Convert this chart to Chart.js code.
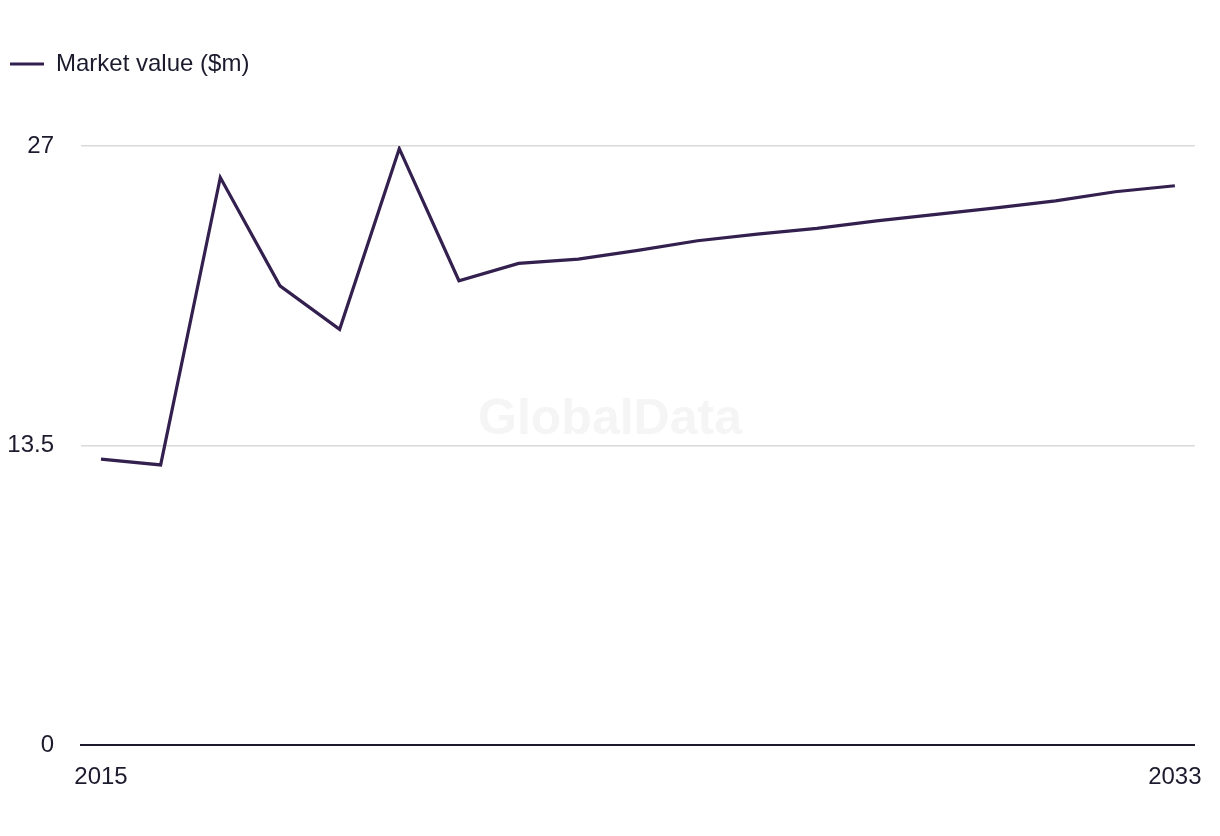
<!DOCTYPE html>
<html>
<head>
<meta charset="utf-8">
<script src="https://cdn.jsdelivr.net/npm/chart.js@4/dist/chart.umd.min.js"></script>
<style>
  html, body { margin: 0; padding: 0; background: #fff; }
  #wrap { width: 1220px; height: 836px; }
</style>
</head>
<body>
<div id="wrap"><canvas id="market"></canvas></div>
<script>
const years = [2015, 2016, 2017, 2018, 2019, 2020, 2021, 2022, 2023, 2024,
               2025, 2026, 2027, 2028, 2029, 2030, 2031, 2032, 2033];
const marketValue = [12.89, 12.63, 25.58, 20.7, 18.74, 26.88, 20.93, 21.71, 21.9, 22.3,
                     22.73, 23.03, 23.29, 23.63, 23.92, 24.21, 24.53, 24.94, 25.21];
const xTickYears = [2015, 2033];
const yTicks = [0, 13.5, 27];
const seriesLabel = 'Market value ($m)';

const textColor = '#1c1b2e';
const lineColor = '#33204f';

// watermark in the middle of the canvas
const watermark = {
      id: 'watermark',
      beforeDraw(chart) {
            const ctx = chart.ctx;
            ctx.save();
            ctx.font = 'bold 50px "Liberation Sans", Arial, sans-serif';
            ctx.fillStyle = '#f5f5f5';
            ctx.textAlign = 'center';
            ctx.textBaseline = 'middle';
            ctx.fillText('GlobalData', chart.width / 2, 420);
            ctx.restore();
      }
};

// extra room under the legend
const legendGap = {
      id: 'legendGap',
      beforeInit(chart) {
            const fit = chart.legend.fit;
            chart.legend.fit = function () {
                  fit.bind(chart.legend)();
                  this.height += 60;
            };
      }
};

Chart.defaults.font.family = '"Liberation Sans", Arial, sans-serif';
Chart.defaults.font.size = 24;
Chart.defaults.color = textColor;

new Chart(document.getElementById('market'), {
      type: 'line',
      data: {
            datasets: [{
                  label: seriesLabel,
                  data: years.map((yr, i) => ({ x: yr, y: marketValue[i] })),
                  borderColor: lineColor,
                  backgroundColor: lineColor,
                  borderWidth: 3.2,
                  borderJoinStyle: 'miter',
                  pointRadius: 0,
                  tension: 0
            }]
      },
      options: {
            responsive: true,
            maintainAspectRatio: false,
            animation: false,
            layout: {
                  padding: { top: 42, right: 24, bottom: 26, left: 0 }
            },
            plugins: {
                  legend: {
                        align: 'start',
                        labels: {
                              usePointStyle: true,
                              pointStyle: 'line',
                              pointStyleWidth: 34,
                              padding: 10,
                              color: textColor
                        }
                  },
                  tooltip: { enabled: false }
            },
            scales: {
                  x: {
                        type: 'linear',
                        min: 2014.665,
                        max: 2033.335,
                        afterBuildTicks: (axis) => {
                              axis.ticks = xTickYears.map(v => ({ value: v }));
                        },
                        ticks: {
                              padding: 18,
                              maxRotation: 0,
                              callback: (v) => String(v)
                        },
                        grid: { display: false, drawTicks: false },
                        border: { display: true, color: textColor, width: 2 }
                  },
                  y: {
                        min: 0,
                        max: 27,
                        afterBuildTicks: (axis) => {
                              axis.ticks = yTicks.map(v => ({ value: v }));
                        },
                        afterFit: (axis) => { axis.width = 81; },
                        ticks: { padding: 27 },
                        grid: {
                              drawTicks: false,
                              lineWidth: 1.5,
                              color: (c) => c.tick && c.tick.value === 0 ? 'rgba(0,0,0,0)' : '#d9d9d9'
                        },
                        border: { display: false }
                  }
            }
      },
      plugins: [watermark, legendGap]
});
</script>
</body>
</html>
